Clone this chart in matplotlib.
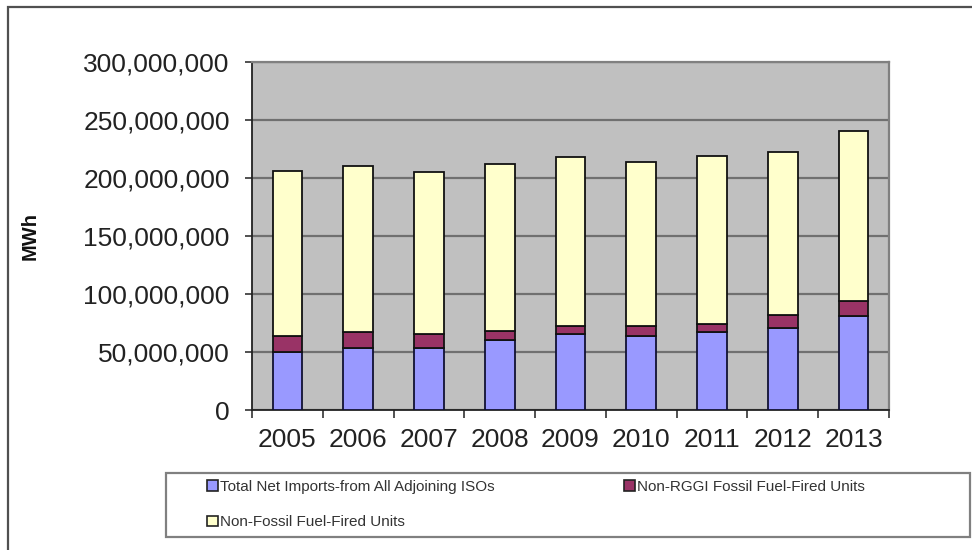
import matplotlib
matplotlib.use("Agg")
import matplotlib.pyplot as plt
from matplotlib.patches import Rectangle, Patch
from matplotlib.ticker import FuncFormatter, MultipleLocator, FixedLocator
import numpy as np

plt.rcParams['font.family'] = ['Liberation Sans', 'DejaVu Sans']

years = ["2005", "2006", "2007", "2008", "2009", "2010", "2011", "2012", "2013"]
net_imports = [49.7e6, 53.4e6, 53.4e6, 60.3e6, 65.5e6, 64.1e6, 67.0e6, 70.4e6, 80.8e6]
non_rggi_fossil = [13.8e6, 13.6e6, 12.1e6, 8.1e6, 7.2e6, 8.0e6, 7.1e6, 11.8e6, 13.5e6]
non_fossil = [142.3e6, 143.6e6, 139.7e6, 144.0e6, 145.4e6, 141.7e6, 144.6e6, 140.0e6, 146.5e6]

labels = ["Total Net Imports-from All Adjoining ISOs",
          "Non-RGGI Fossil Fuel-Fired Units",
          "Non-Fossil Fuel-Fired Units"]
colors = ["#9999FF", "#993366", "#FFFFCC"]

W, H = 972, 550
fig = plt.figure(figsize=(W / 100, H / 100), dpi=100)
fig.patch.set_facecolor("white")

# outer chart frame (runs off the right and bottom edges)
fig.patches.append(Rectangle((8 / W, -0.05), 1.2, 1 - 7 / H + 0.05,
                             transform=fig.transFigure, fill=False,
                             edgecolor="#505050", linewidth=1.6))

ax = fig.add_axes([252 / W, 1 - 410 / H, (889 - 252) / W, (410 - 62) / H])
ax.set_facecolor("#C0C0C0")

x = np.arange(len(years))
bw = 0.42
b1 = np.array(net_imports)
b2 = b1 + np.array(non_rggi_fossil)
ax.bar(x, net_imports, bw, color=colors[0], edgecolor="#111133", linewidth=1.3, zorder=3)
ax.bar(x, non_rggi_fossil, bw, bottom=b1, color=colors[1], edgecolor="#111111", linewidth=1.3, zorder=3)
ax.bar(x, non_fossil, bw, bottom=b2, color=colors[2], edgecolor="#111111", linewidth=1.3, zorder=3)

ax.set_xlim(-0.5, len(years) - 0.5)
ax.set_ylim(0, 300e6)
ax.yaxis.set_major_locator(MultipleLocator(50e6))
ax.yaxis.set_major_formatter(FuncFormatter(lambda v, p: f"{int(v):,}"))
ax.grid(axis="y", color="#707070", linewidth=1.6, zorder=1)

ax.set_xticks(x)
ax.set_xticklabels(years)
ax.xaxis.set_minor_locator(FixedLocator(np.arange(-0.5, len(years), 1.0)))
ax.tick_params(axis="x", which="major", length=0, pad=13, labelsize=19, labelcolor="#222222")
ax.tick_params(axis="x", which="minor", length=6, width=1.2, color="#333333")
ax.tick_params(axis="y", length=5, width=1.2, color="#333333", pad=11,
               labelsize=19, labelcolor="#222222")

for side in ("top", "right"):
    ax.spines[side].set_color("#808080")
    ax.spines[side].set_linewidth(1.6)
for side in ("left", "bottom"):
    ax.spines[side].set_color("#222222")
    ax.spines[side].set_linewidth(1.3)

fig.text(30 / W, 1 - 236 / H, "MWh", rotation=90, fontsize=14.5, fontweight="bold",
         ha="center", va="center", color="#111111")

# legend box
fig.patches.append(Rectangle((166 / W, 1 - 537 / H), (970 - 166) / W, (537 - 473) / H,
                             transform=fig.transFigure, fill=False,
                             edgecolor="#808080", linewidth=1.6))
handles = [Patch(facecolor=colors[0], edgecolor="#222222", linewidth=1.2),
           Patch(facecolor=colors[2], edgecolor="#222222", linewidth=1.2),
           Patch(facecolor=colors[1], edgecolor="#222222", linewidth=1.2)]
hl = [labels[0], labels[2], labels[1]]
fig.legend(handles, hl, ncol=2, loc="upper left",
           bbox_to_anchor=(207 / W, 1 - 480 / H), frameon=False, borderaxespad=0,
           fontsize=11, handlelength=0.7, handleheight=0.7, handletextpad=0.15,
           columnspacing=8.5, labelspacing=1.4, borderpad=0, labelcolor="#333333")

fig.savefig("out.png", dpi=100)
